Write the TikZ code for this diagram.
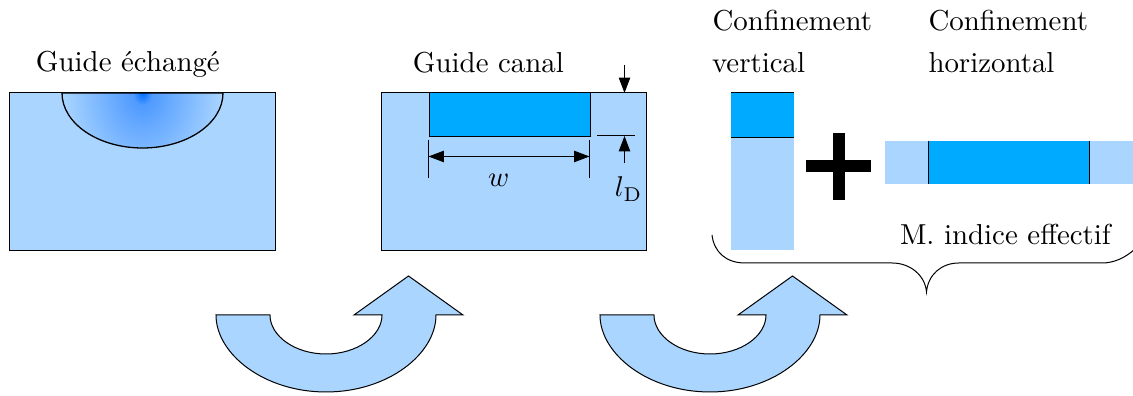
\documentclass[tikz,border=0pt]{standalone}
\usetikzlibrary{arrows.meta}
\definecolor{lightb}{RGB}{170,213,255}
\definecolor{deepb}{RGB}{0,170,255}
\definecolor{coreb}{RGB}{0,110,255}
\definecolor{midb}{RGB}{80,155,255}
\pgfdeclareradialshading{wellshade}{\pgfpoint{0bp}{0bp}}{%
  color(0bp)=(coreb); color(3bp)=(midb); color(25bp)=(lightb); color(50bp)=(lightb)}
\tikzset{
  every node/.style={font=\fontsize{10.1}{12}\selectfont},
  lab/.style={anchor=base west,inner sep=0pt,outer sep=0pt},
  thinln/.style={line width=0.35pt},
  dim/.style={thinln,-{Triangle[length=5.4pt,width=4pt]}},
  dimb/.style={thinln,{Triangle[length=5.4pt,width=4pt]}-{Triangle[length=5.4pt,width=4pt]}},
  bigarrow/.style={draw=black,fill=lightb,thinln}
}
\newcommand{\bigarr}[1]{%
  \begin{scope}[xshift=#1*0.35pt]
  \path[bigarrow] (216,315) -- (270,315)
     .. controls (270,336) and (295,354) .. (326,354)
     .. controls (357,354) and (382,336) .. (382,315)
     -- (354,315) -- (408.5,276) -- (463,315) -- (436,315)
     .. controls (436,354) and (388,392) .. (326,392)
     .. controls (264,392) and (216,354) .. (216,315) -- cycle;
  \end{scope}}
\begin{document}
\begin{tikzpicture}[x=0.35pt,y=-0.35pt]
\useasboundingbox (0,0) rectangle (1133,396);
\clip (0,0) rectangle (1133,396);
% first guide
\draw[fill=lightb,thinln] (9.5,93) rectangle (275,250.5);
\begin{scope}
  \clip (62,93) arc[start angle=180,end angle=360,x radius=80.5,y radius=-55] -- cycle;
  \shade[shading=wellshade] (142.5,93) ellipse[x radius=80,y radius=100];
\end{scope}
\draw[line width=0.45pt] (62,93) arc[start angle=180,end angle=360,x radius=80.5,y radius=-55] -- cycle;
\node[lab] (t1) at (36,71.5) {Guide échangé};
% second guide
\draw[fill=lightb,thinln] (381,93) rectangle (646,250.5);
\draw[fill=deepb,thinln] (429,93) rectangle (590,136.5);
\node[lab] (t2) at (413,72.5) {Guide canal};
\coordinate (a1) at (624.5,65); \coordinate (a2) at (624.5,93);
\draw[dim] (a1) -- (a2);
\coordinate (b1) at (624.5,163); \coordinate (b2) at (624.5,136);
\draw[dim] (b1) -- (b2);
\coordinate (c1) at (597,136); \coordinate (c2) at (635,136);
\draw[thinln] (c1) -- (c2);
\coordinate (d1) at (428.5,140); \coordinate (d2) at (428.5,178);
\coordinate (e1) at (589.5,140); \coordinate (e2) at (589.5,178);
\draw[thinln] (d1) -- (d2) (e1) -- (e2);
\coordinate (f1) at (428.5,156.5); \coordinate (f2) at (589.5,156.5);
\draw[dimb] (f1) -- (f2);
\node[lab] (w) at (488,187) {$w$};
\node[lab] (ld) at (615,197) {$l_{\mathrm{D}}$};
% confinement
\node[lab] (t3) at (712.5,30.5) {Confinement};
\node[lab] (t4) at (712,73) {vertical};
\node[lab] (t5) at (928.5,30.5) {Confinement};
\node[lab] (t6) at (928.5,73) {horizontal};
\fill[lightb] (731,137) rectangle (794,250);
\fill[deepb] (731,93) rectangle (794,137);
\draw[thinln] (731,93) -- (794,93) (731,137.5) -- (794,137.5);
\fill[black] (806,160) rectangle (871,172.5);
\fill[black] (832.5,133) rectangle (844.5,200);
\fill[lightb] (885,141) rectangle (1133,184);
\fill[deepb] (928,141) rectangle (1089.5,184);
\draw[thinln] (928,141) -- (928,184) (1089.5,141) -- (1089.5,184);
\node[lab] (t7) at (900,244.5) {M. indice effectif};
% brace
\draw[thinln] (712,235) .. controls (714,252) and (726,263) .. (745,263)
  -- (892,263) .. controls (910,263) and (925,275) .. (926.5,292)
  .. controls (928,275) and (941,263) .. (959,263)
  -- (1102,263) .. controls (1114,263) and (1125,258) .. (1135,249);
% arrows
\bigarr{0}
\bigarr{384}
\end{tikzpicture}
\end{document}
